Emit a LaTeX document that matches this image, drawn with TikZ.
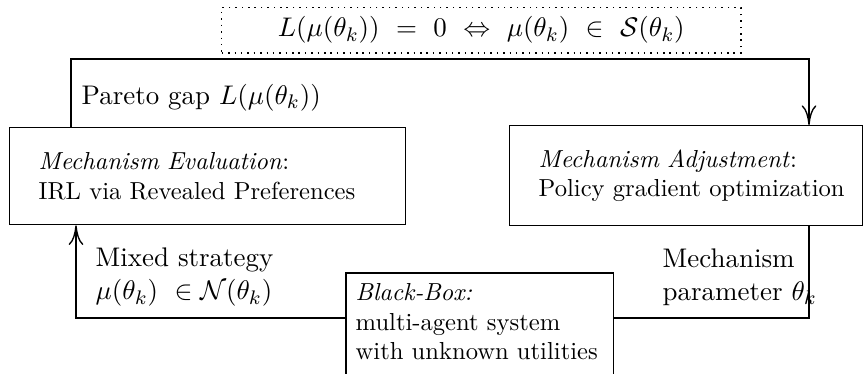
\documentclass[tikz,border=0pt]{standalone}
\usepackage{amsmath,amssymb}
\usetikzlibrary{arrows.meta}
\begin{document}
\begin{tikzpicture}[x=0.4065pt,y=-0.4065pt,line width=0.55pt,
  box/.style={draw,anchor=north west,align=left,inner ysep=0pt},
  lbl/.style={align=left,inner sep=0pt,font=\fontsize{10.95pt}{13.6pt}\selectfont},
  arr/.style={-{Computer Modern Rightarrow[length=8pt,width=6pt]}}]
\useasboundingbox (0,0) rectangle (867,373);
% top formula
\node[draw,dotted,line width=0.6pt,minimum width=211pt,minimum height=18.3pt,anchor=north west,inner sep=0pt,
  font=\fontsize{10.95pt}{13.6pt}\selectfont] (eq) at (221,7)
  {$L(\mu(\theta_k))\ =\ 0\ \Leftrightarrow\ \mu(\theta_k)\ \in\ \mathcal{S}(\theta_k)$};
% boxes
\node[box,inner xsep=11.8pt,text width=137.4pt,minimum height=39.4pt] (eval) at (9,127)
  {\textit{Mechanism Evaluation}:\\IRL via Revealed Preferences};
\node[box,inner xsep=11.8pt,text width=119.9pt,minimum height=40.7pt] (adj) at (509,125)
  {\textit{Mechanism Adjustment}:\\\mbox{Policy gradient optimization}};
\node[anchor=north west,align=left,inner xsep=3.66pt,inner ysep=4pt,text width=100.8pt] (bb) at (346,273)
  {\textit{Black-Box:}\\multi-agent system\\with unknown utilities};
\draw (bb.north west) rectangle ([yshift=-4pt]bb.south east);
% connector corners
\coordinate (c1) at (71,59);
\coordinate (c2) at (809,59);
\coordinate (c3) at (809,318);
\coordinate (c4) at (76,318);
\draw[arr] (eval.north -| c1) |- (c2) -- (adj.north -| c2);
\draw (adj.south -| c3) -- (c3) -- (bb.east |- c3);
\draw[arr] (bb.west |- c4) -- (c4) -- (eval.south -| c4);
% labels
\node[lbl,anchor=base west] (pg) at (81,104) {Pareto gap $L(\mu(\theta_k))$};
\node[lbl,anchor=west] (ms) at (95,277) {Mixed strategy\\$\mu(\theta_k)\ \in\mathcal{N}(\theta_k)$};
\node[lbl,anchor=west] (mp) at (662,277) {Mechanism\\parameter $\theta_k$};
\end{tikzpicture}
\end{document}
